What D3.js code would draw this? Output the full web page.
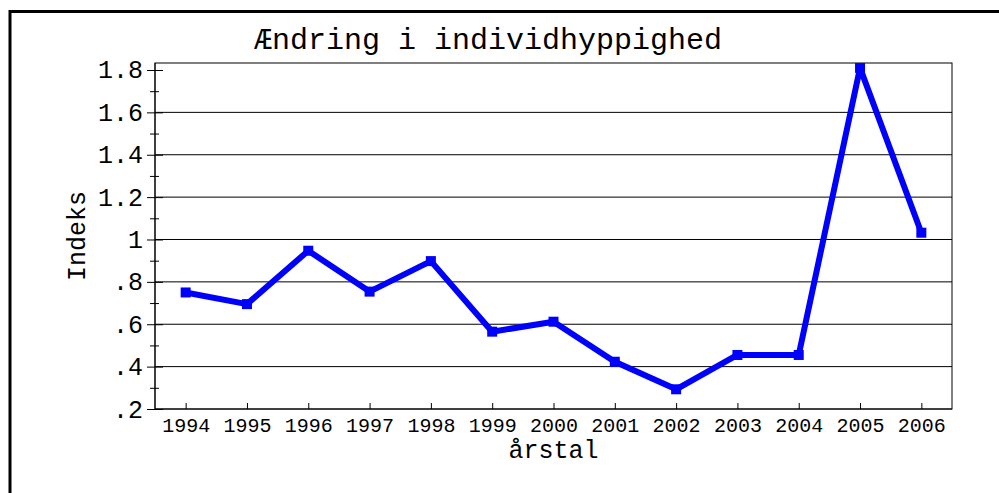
<!DOCTYPE html>
<html>
<head>
<meta charset="utf-8">
<script src="https://cdn.jsdelivr.net/npm/d3@7"></script>
<style>
    body { margin: 0; background: #fff; }
    text { font-family: "Courier New", "Liberation Mono", monospace; fill: #000; }
    .axis path { display: none; }
    .axis line { stroke: #000; }
</style>
</head>
<body>
<div id="chart-area"></div>
<script>
// Data
var years = ["1994", "1995", "1996", "1997", "1998", "1999", "2000",
             "2001", "2002", "2003", "2004", "2005", "2006"];
var indeks = [0.75, 0.695, 0.947, 0.754, 0.898, 0.565, 0.612,
              0.423, 0.293, 0.455, 0.455, 1.81, 1.032];
var yTicks = [0.2, 0.4, 0.6, 0.8, 1.0, 1.2, 1.4, 1.6, 1.8];
var yTickLabels = [".2", ".4", ".6", ".8", "1", "1.2", "1.4", "1.6", "1.8"];
var yMinorTicks = [0.3, 0.5, 0.7, 0.9, 1.1, 1.3, 1.5, 1.7];
var yDomain = [0.2, 1.833];

function lineChart(){
    // Dimensions of plot area
    var margin = { left:155, right:47, top:63, bottom:84 };
    var width = 999 - margin.left - margin.right,
        height = 493 - margin.top - margin.bottom;

    var root = d3.select("#chart-area")
        .append("svg")
            .attr("width", 999)
            .attr("height", 493);

    // outer frame (right and bottom sides fall outside the picture)
    root.append("rect")
        .attr("x", 10)
        .attr("y", 11.5)
        .attr("width", 1100)
        .attr("height", 600)
        .attr("fill", "none")
        .attr("stroke", "#000")
        .attr("stroke-width", 3);

    var svg = root.append("g")
        .attr("transform", "translate(" + margin.left + ", " + margin.top + ")");

    // Scales
    var x = d3.scalePoint().domain(years).range([0, width]).padding(0.5);
    var y = d3.scaleLinear().domain(yDomain).range([height, 0]);

    // Grid lines (none drawn at the top tick)
    svg.selectAll(".grid")
        .data(yTicks.filter(function(d){ return d < 1.7; }))
        .enter().append("line")
            .attr("class", "grid")
            .attr("x1", 0)
            .attr("x2", width)
            .attr("y1", function(d){ return y(d); })
            .attr("y2", function(d){ return y(d); })
            .attr("stroke", "#000")
            .attr("stroke-width", 1);

    // plot frame
    svg.append("rect")
        .attr("width", width)
        .attr("height", height)
        .attr("fill", "none")
        .attr("stroke", "#000")
        .attr("stroke-width", 1);

    // X axis, ticks point up into the plot
    var xAxisGroup = svg.append("g")
        .attr("class", "x axis")
        .attr("transform", "translate(0," + height + ")")
        .call(d3.axisBottom(x).tickSize(0).tickPadding(0));
    xAxisGroup.selectAll(".tick line")
        .attr("y1", 0)
        .attr("y2", -6);
    xAxisGroup.selectAll(".tick text")
        .attr("y", 23)
        .attr("dy", 0)
        .attr("font-size", "20px");

    // Y axis, major ticks cross the axis line
    var yAxisGroup = svg.append("g")
        .attr("class", "y axis")
        .call(d3.axisLeft(y)
            .tickValues(yTicks)
            .tickFormat(function(d, i){ return yTickLabels[i]; })
            .tickSize(0));
    yAxisGroup.selectAll(".tick line")
        .attr("x1", -8)
        .attr("x2", 8);
    yAxisGroup.selectAll(".tick text")
        .attr("x", -12)
        .attr("dy", "0.32em")
        .attr("font-size", "25px");

    // minor ticks
    var yMinorGroup = svg.append("g")
        .attr("class", "y axis minor")
        .call(d3.axisLeft(y).tickValues(yMinorTicks).tickFormat("").tickSize(0));
    yMinorGroup.selectAll(".tick line")
        .attr("x1", -5)
        .attr("x2", 4);

    svg.append("line")
        .attr("y1", 0)
        .attr("y2", height)
        .attr("stroke", "#000");

    // Title
    root.append("text")
        .attr("x", 488)
        .attr("y", 49)
        .attr("font-size", "30px")
        .attr("text-anchor", "middle")
        .text("Ændring i individhyppighed");

    // X Label
    svg.append("text")
        .attr("x", width / 2)
        .attr("y", height + 49)
        .attr("font-size", "25px")
        .attr("text-anchor", "middle")
        .text("årstal");

    // Y Label
    svg.append("text")
        .attr("x", -(height / 2))
        .attr("y", -70)
        .attr("font-size", "25px")
        .attr("text-anchor", "middle")
        .attr("transform", "rotate(-90)")
        .text("Indeks");

    // clip line and markers to plot area
    svg.append("clipPath")
        .attr("id", "plot-clip")
        .append("rect")
            .attr("width", width)
            .attr("height", height);

    var data = years.map(function(yr, i){ return { year: yr, value: indeks[i] }; });

    var plot = svg.append("g").attr("clip-path", "url(#plot-clip)");

    var line = d3.line()
        .x(function(d){ return x(d.year); })
        .y(function(d){ return y(d.value); });

    plot.append("path")
        .datum(data)
        .attr("d", line)
        .attr("fill", "none")
        .attr("stroke", "#0000ff")
        .attr("stroke-width", 6)
        .attr("stroke-linejoin", "round");

    plot.selectAll(".marker")
        .data(data)
        .enter().append("rect")
            .attr("class", "marker")
            .attr("x", function(d){ return x(d.year) - 5; })
            .attr("y", function(d){ return y(d.value) - 5; })
            .attr("width", 10)
            .attr("height", 10)
            .attr("fill", "#0000ff");
}

lineChart();
</script>
</body>
</html>
